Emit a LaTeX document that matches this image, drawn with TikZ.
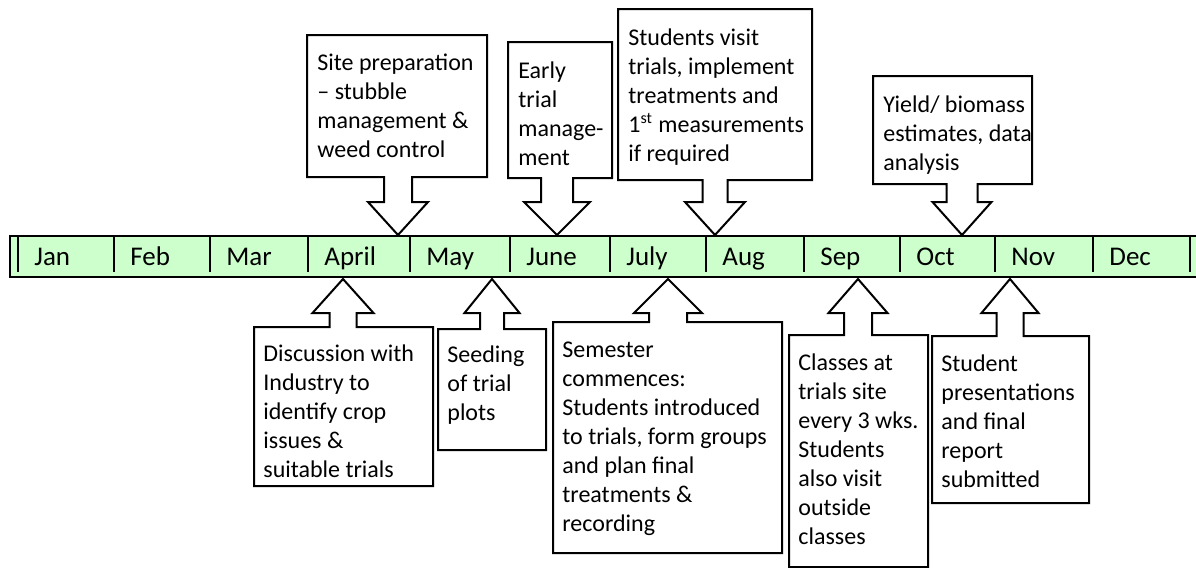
\documentclass[tikz,border=0pt]{standalone}
\usepackage{fontspec}
\setmainfont{Carlito}
\definecolor{barfill}{HTML}{CCFFCC}
% callout pointing down to the bar: left, top, right, bottom, tip x, shaft, wing
\newcommand{\calldown}[7]{%
\draw[callout] (#1,#2) -- (#3,#2) -- (#3,#4) -- ({#5+#6},#4) -- ({#5+#6},202)
  -- ({#5+#7},202) -- (#5,235) -- ({#5-#7},202) -- ({#5-#6},202)
  -- ({#5-#6},#4) -- (#1,#4) -- cycle;}
% callout pointing up to the bar: left, top, right, bottom, tip x, shaft, wing
\newcommand{\callup}[7]{%
\draw[callout] (#1,#2) -- ({#5-#6},#2) -- ({#5-#6},313) -- ({#5-#7},313)
  -- (#5,279) -- ({#5+#7},313) -- ({#5+#6},313) -- ({#5+#6},#2)
  -- (#3,#2) -- (#3,#4) -- (#1,#4) -- cycle;}
\tikzset{
  callout/.style={draw=black, fill=white, line width=1pt, line join=miter},
  note/.style={anchor=north west, inner sep=0pt, align=left,
    font=\fontsize{12}{14.5}\selectfont,
    execute at begin node={\rule{0pt}{12pt}}},
  month/.style={anchor=base west, inner sep=0pt, font=\fontsize{13.5}{16}\selectfont}
}
\begin{document}
\begin{tikzpicture}[x=0.5pt,y=-0.5pt]
\useasboundingbox (0,0) rectangle (1196,568);
% month bar
\draw[fill=barfill, line width=1pt] (10,236) rectangle (1204,277);
\draw[line width=0.7pt] (18,236) -- (18,272);
\foreach \x in {114,210,308,410,510,610,706,804,900,995,1093,1190}
  \draw[line width=0.7pt] (\x,236) -- (\x,272);
\foreach \x/\m [count=\i] in {18/Jan,114/Feb,210/Mar,308/April,410/May,510/June,
  610/July,706/Aug,804/Sep,900/Oct,995/Nov,1093/Dec}
  \node[month] (month\i) at (\x+16,265) {\m};
% callouts above the bar
\calldown{307}{35}{487}{177}{398}{14}{30}
\node[note] (sitenote) at (317,54) {Site preparation\\– stubble\\management \&\\weed control};
\calldown{508}{42}{612}{178}{557}{16}{33}
\node[note] (earlynote) at (518,61) {Early\\trial\\manage-\\ment};
\calldown{618}{9}{812}{180}{715}{12.5}{30}
\node[note] (visitnote) at (628,28) {Students visit\\trials, implement\\treatments and\\1\textsuperscript{st} measurements\\if required};
\calldown{873}{76}{1032}{184}{962}{15.5}{29.5}
\node[note] (yieldnote) at (883,95) {Yield/ biomass\\estimates, data\\analysis};
% callouts below the bar
\callup{254}{327}{433}{486}{343}{13.5}{30.5}
\node[note] (industrynote) at (263,344) {Discussion with\\Industry to\\identify crop\\issues \&\\suitable trials};
\callup{438}{329}{546}{450}{492}{12}{27.5}
\node[note] (seednote) at (447,345) {Seeding\\of trial\\plots};
\callup{553}{322}{782}{553}{668}{19}{34}
\node[note] (semesternote) at (562,342) {Semester\\commences:\\Students introduced\\to trials, form groups\\and plan final\\treatments \&\\recording};
\callup{789}{335}{928}{567}{858}{14}{29.5}
\node[note] (classnote) at (798,353) {Classes at\\trials site\\every 3 wks.\\Students\\also visit\\outside\\classes};
\callup{932}{336}{1089}{503}{1010}{13.5}{28.5}
\node[note] (reportnote) at (941,354) {Student\\presentations\\and final\\report\\submitted};
\end{tikzpicture}
\end{document}
